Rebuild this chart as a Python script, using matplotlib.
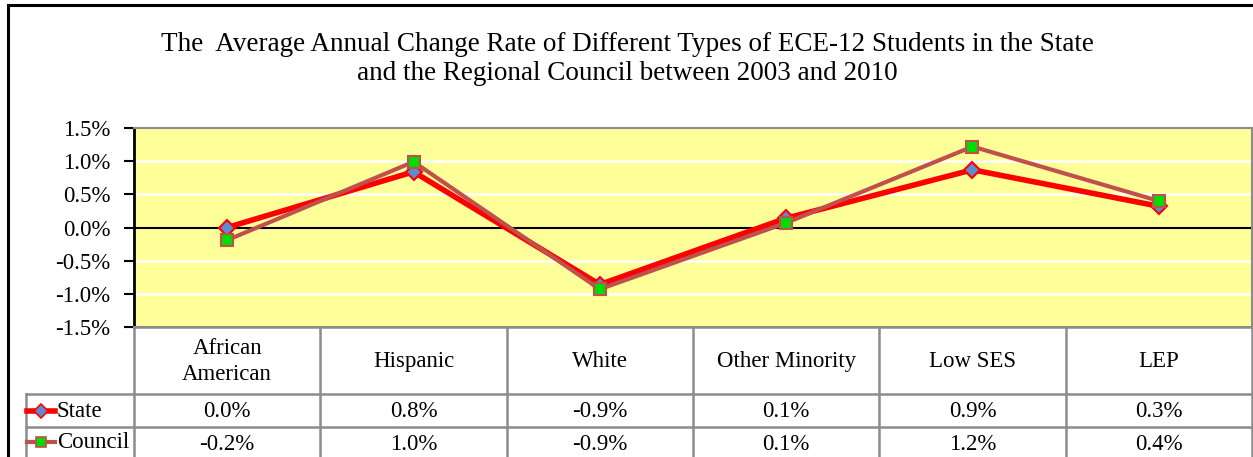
import matplotlib
matplotlib.use("Agg")
import matplotlib.pyplot as plt
import numpy as np

categories = ["African\nAmerican", "Hispanic", "White", "Other Minority", "Low SES", "LEP"]
state_vals = [0.00, 0.84, -0.86, 0.14, 0.87, 0.32]
council_vals = [-0.19, 0.99, -0.93, 0.07, 1.22, 0.40]
state_labels = ["0.0%", "0.8%", "-0.9%", "0.1%", "0.9%", "0.3%"]
council_labels = ["-0.2%", "1.0%", "-0.9%", "0.1%", "1.2%", "0.4%"]
series_names = ["State", "Council"]
yticks = [-1.5, -1.0, -0.5, 0.0, 0.5, 1.0, 1.5]
title = ("The  Average Annual Change Rate of Different Types of ECE-12 Students in the State\n"
         "and the Regional Council between 2003 and 2010")

W, H = 1253, 457
FS = 16.5
plt.rcParams['font.family'] = ['Liberation Serif', 'DejaVu Serif']
fig = plt.figure(figsize=(W / 100, H / 100), dpi=100)

# plot area in pixels
PL, PR, PT, PB = 134, 1252, 128, 327
ax = fig.add_axes([PL / W, 1 - PB / H, (PR - PL) / W, (PB - PT) / H])
ax.set_facecolor("#FFFF99")
ax.set_xlim(-0.5, len(categories) - 0.5)
ax.set_ylim(-1.5, 1.5)
ax.set_yticks(yticks)
ax.set_yticklabels([f"{v:.1f}%" for v in yticks], fontsize=FS)
ax.set_xticks([])
for v in yticks:
    if v not in (-1.5, 1.5, 0.0):
        ax.axhline(v, color="white", lw=1.8, zorder=1)
ax.axhline(0, color="black", lw=1.5, zorder=2)
for s in ["top", "right", "bottom"]:
    ax.spines[s].set_color("#8C8C8C")
    ax.spines[s].set_linewidth(1.5)
ax.spines["left"].set_color("black")
ax.spines["left"].set_linewidth(2)
ax.tick_params(axis="y", direction="out", length=7, width=1.5, pad=10, color="black")

x = np.arange(len(categories))
ax.plot(x, council_vals, color="#C0504D", lw=3, marker="s", markersize=8,
        markerfacecolor="#00DD00", markeredgecolor="#C0504D", markeredgewidth=1.5, zorder=4)
ax.plot(x, state_vals, color="#FF0000", lw=4, marker="D", markersize=8,
        markerfacecolor="#5B8BD0", markeredgecolor="#FF0000", markeredgewidth=1.5, zorder=3)

# overlay in pixel coordinates
ov = fig.add_axes([0, 0, 1, 1], facecolor="none")
ov.set_xlim(0, W)
ov.set_ylim(H, 0)
ov.axis("off")

# outer chart border
ov.plot([8, 8], [H + 5, 5], color="black", lw=2.2)
ov.plot([8, W + 5], [5, 5], color="black", lw=2.2)

ov.text(627, 59, title, ha="center", va="center", fontsize=19.5, linespacing=1.22)

# table
gc = "#8C8C8C"
n = len(categories)
colw = (PR - PL) / n
bounds = [PL + i * colw for i in range(n + 1)]
r_head, r_state, r_council, r_end = 327, 394, 427, 470
LX = 26
for b in bounds:
    ov.plot([b, b], [r_head, r_end], color=gc, lw=1.8)
ov.plot([LX, LX], [r_state, r_end], color=gc, lw=1.8)
ov.plot([PL, PR], [r_head, r_head], color=gc, lw=1.8)
for r in (r_state, r_council):
    ov.plot([LX, PR], [r, r], color=gc, lw=1.8)

for i, c in enumerate(categories):
    cx = (bounds[i] + bounds[i + 1]) / 2
    ov.text(cx, (r_head + r_state) / 2 + 1, c, ha="center", va="center", fontsize=FS, linespacing=1.3)
    ov.text(cx, (r_state + r_council) / 2 + 1, state_labels[i], ha="center", va="center", fontsize=FS)
    ov.text(cx, (r_council + r_end) / 2 - 4, council_labels[i], ha="center", va="center", fontsize=FS)

# legend keys
ky_s = (r_state + r_council) / 2
ky_c = r_council + 15
ov.plot([27, 55], [ky_s, ky_s], color="#FF0000", lw=4)
ov.plot([41], [ky_s], marker="D", markersize=7, markerfacecolor="#5B8BD0",
        markeredgecolor="#FF0000", markeredgewidth=1.2)
ov.plot([27, 55], [ky_c, ky_c], color="#C0504D", lw=3)
ov.plot([41], [ky_c], marker="s", markersize=7, markerfacecolor="#00DD00",
        markeredgecolor="#C0504D", markeredgewidth=1.2)
ov.text(57, ky_s + 1, series_names[0], ha="left", va="center", fontsize=FS)
ov.text(57, ky_c + 1, series_names[1], ha="left", va="center", fontsize=FS)

fig.savefig("out.png", dpi=100)
